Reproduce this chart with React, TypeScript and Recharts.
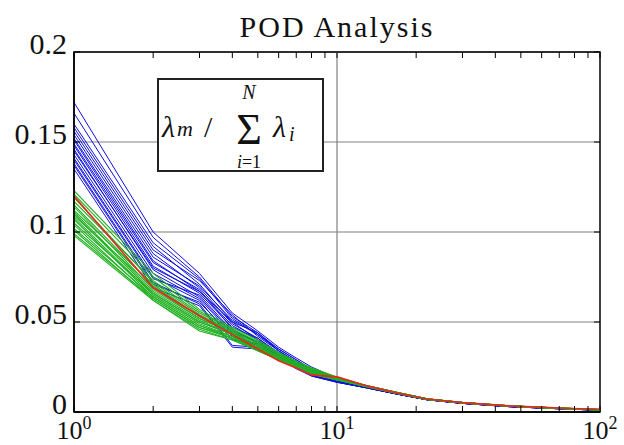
import React from "react";
import { LineChart, Line, XAxis, YAxis, CartesianGrid, ReferenceLine, ReferenceArea } from "recharts";

// mode index (x) sampled along the curves
const XS = [1, 2, 3, 4, 5, 6, 7, 8, 10, 13, 17, 22, 30, 45, 70, 100];

const X_TICKS = [1, 2, 3, 4, 5, 6, 7, 8, 9, 10, 20, 30, 40, 50, 60, 70, 80, 90, 100];
const Y_TICKS = [0, 0.05, 0.1, 0.15, 0.2];
const Y_LABELS = ["0", "0.05", "0.1", "0.15", "0.2"];

const TITLE = "POD Analysis";

// blue family
const BLUE = [
  [0.172, 0.100, 0.077, 0.055, 0.045, 0.036, 0.030, 0.025, 0.0188, 0.0138, 0.0102, 0.0070, 0.0050, 0.0032, 0.0020, 0.0012],
  [0.166, 0.097, 0.075, 0.053, 0.044, 0.035, 0.029, 0.024, 0.0185, 0.0138, 0.0102, 0.0070, 0.0050, 0.0032, 0.0020, 0.0012],
  [0.160, 0.094, 0.074, 0.052, 0.043, 0.035, 0.029, 0.0235, 0.0183, 0.0138, 0.0102, 0.0070, 0.0050, 0.0032, 0.0020, 0.0012],
  [0.158, 0.092, 0.071, 0.050, 0.044, 0.034, 0.028, 0.023, 0.0180, 0.0138, 0.0102, 0.0070, 0.0050, 0.0032, 0.0020, 0.0012],
  [0.156, 0.090, 0.073, 0.054, 0.042, 0.034, 0.028, 0.023, 0.0180, 0.0138, 0.0102, 0.0070, 0.0050, 0.0032, 0.0020, 0.0012],
  [0.154, 0.088, 0.069, 0.049, 0.041, 0.033, 0.028, 0.0225, 0.0178, 0.0138, 0.0102, 0.0070, 0.0050, 0.0032, 0.0020, 0.0012],
  [0.152, 0.086, 0.070, 0.051, 0.043, 0.034, 0.027, 0.022, 0.0176, 0.0136, 0.0100, 0.0069, 0.0049, 0.0031, 0.0019, 0.0011],
  [0.151, 0.084, 0.067, 0.048, 0.040, 0.033, 0.027, 0.022, 0.0175, 0.0136, 0.0100, 0.0069, 0.0049, 0.0031, 0.0019, 0.0011],
  [0.149, 0.083, 0.068, 0.046, 0.038, 0.032, 0.027, 0.022, 0.0174, 0.0136, 0.0100, 0.0069, 0.0049, 0.0031, 0.0019, 0.0011],
  [0.148, 0.081, 0.066, 0.047, 0.041, 0.032, 0.026, 0.0215, 0.0172, 0.0136, 0.0100, 0.0069, 0.0049, 0.0031, 0.0019, 0.0011],
  [0.146, 0.079, 0.064, 0.044, 0.039, 0.032, 0.026, 0.0215, 0.0172, 0.0136, 0.0100, 0.0069, 0.0049, 0.0031, 0.0019, 0.0011],
  [0.145, 0.080, 0.067, 0.050, 0.040, 0.031, 0.026, 0.021, 0.0170, 0.0136, 0.0100, 0.0069, 0.0049, 0.0031, 0.0019, 0.0011],
  [0.143, 0.077, 0.063, 0.043, 0.037, 0.031, 0.026, 0.021, 0.0170, 0.0134, 0.0099, 0.0068, 0.0048, 0.0030, 0.0018, 0.0010],
  [0.141, 0.075, 0.062, 0.040, 0.038, 0.031, 0.025, 0.021, 0.0168, 0.0134, 0.0099, 0.0068, 0.0048, 0.0030, 0.0018, 0.0010],
  [0.140, 0.074, 0.065, 0.045, 0.039, 0.031, 0.025, 0.0205, 0.0168, 0.0134, 0.0099, 0.0068, 0.0048, 0.0030, 0.0018, 0.0010],
  [0.138, 0.072, 0.060, 0.037, 0.036, 0.030, 0.025, 0.0205, 0.0166, 0.0134, 0.0099, 0.0068, 0.0048, 0.0030, 0.0018, 0.0010],
  [0.137, 0.071, 0.061, 0.042, 0.037, 0.030, 0.025, 0.020, 0.0165, 0.0134, 0.0099, 0.0068, 0.0048, 0.0030, 0.0018, 0.0010],
  [0.135, 0.069, 0.059, 0.036, 0.035, 0.030, 0.024, 0.020, 0.0165, 0.0134, 0.0099, 0.0068, 0.0048, 0.0030, 0.0018, 0.0010],
];

// green family
const GREEN = [
  [0.123, 0.077, 0.057, 0.047, 0.040, 0.033, 0.028, 0.0245, 0.0195, 0.0146, 0.0108, 0.0074, 0.0053, 0.0035, 0.0022, 0.0014],
  [0.121, 0.075, 0.056, 0.046, 0.039, 0.033, 0.028, 0.024, 0.0192, 0.0146, 0.0108, 0.0074, 0.0053, 0.0035, 0.0022, 0.0014],
  [0.119, 0.072, 0.054, 0.045, 0.038, 0.032, 0.027, 0.0235, 0.0190, 0.0146, 0.0108, 0.0074, 0.0053, 0.0035, 0.0022, 0.0014],
  [0.117, 0.073, 0.055, 0.046, 0.039, 0.032, 0.028, 0.0245, 0.0192, 0.0146, 0.0108, 0.0074, 0.0053, 0.0035, 0.0022, 0.0014],
  [0.115, 0.070, 0.053, 0.044, 0.037, 0.031, 0.027, 0.023, 0.0188, 0.0146, 0.0108, 0.0074, 0.0053, 0.0035, 0.0022, 0.0014],
  [0.114, 0.068, 0.052, 0.044, 0.037, 0.031, 0.027, 0.023, 0.0186, 0.0146, 0.0108, 0.0074, 0.0053, 0.0035, 0.0022, 0.0014],
  [0.112, 0.071, 0.053, 0.045, 0.038, 0.032, 0.027, 0.0235, 0.0190, 0.0143, 0.0106, 0.0072, 0.0052, 0.0034, 0.0021, 0.0013],
  [0.111, 0.067, 0.051, 0.043, 0.036, 0.031, 0.026, 0.0225, 0.0185, 0.0143, 0.0106, 0.0072, 0.0052, 0.0034, 0.0021, 0.0013],
  [0.110, 0.066, 0.050, 0.043, 0.036, 0.030, 0.026, 0.0225, 0.0184, 0.0143, 0.0106, 0.0072, 0.0052, 0.0034, 0.0021, 0.0013],
  [0.109, 0.069, 0.052, 0.044, 0.037, 0.031, 0.027, 0.023, 0.0187, 0.0143, 0.0106, 0.0072, 0.0052, 0.0034, 0.0021, 0.0013],
  [0.108, 0.065, 0.049, 0.042, 0.035, 0.030, 0.026, 0.022, 0.0182, 0.0143, 0.0106, 0.0072, 0.0052, 0.0034, 0.0021, 0.0013],
  [0.107, 0.064, 0.048, 0.042, 0.035, 0.030, 0.026, 0.022, 0.0182, 0.0143, 0.0106, 0.0072, 0.0052, 0.0034, 0.0021, 0.0013],
  [0.105, 0.066, 0.050, 0.043, 0.036, 0.030, 0.026, 0.0225, 0.0184, 0.0140, 0.0103, 0.0070, 0.0050, 0.0032, 0.0020, 0.0012],
  [0.104, 0.063, 0.047, 0.041, 0.035, 0.029, 0.025, 0.0215, 0.0180, 0.0140, 0.0103, 0.0070, 0.0050, 0.0032, 0.0020, 0.0012],
  [0.102, 0.064, 0.048, 0.041, 0.034, 0.029, 0.025, 0.0215, 0.0180, 0.0140, 0.0103, 0.0070, 0.0050, 0.0032, 0.0020, 0.0012],
  [0.101, 0.062, 0.046, 0.040, 0.034, 0.029, 0.025, 0.021, 0.0178, 0.0140, 0.0103, 0.0070, 0.0050, 0.0032, 0.0020, 0.0012],
  [0.099, 0.063, 0.047, 0.041, 0.035, 0.030, 0.025, 0.022, 0.0180, 0.0140, 0.0103, 0.0070, 0.0050, 0.0032, 0.0020, 0.0012],
  [0.098, 0.062, 0.045, 0.040, 0.034, 0.029, 0.025, 0.021, 0.0178, 0.0140, 0.0103, 0.0070, 0.0050, 0.0032, 0.0020, 0.0012],
];

// mean curve
const RED = [0.120, 0.069, 0.0535, 0.043, 0.035, 0.0285, 0.0245, 0.0206, 0.0195, 0.0145, 0.0105, 0.0072, 0.0052, 0.0034, 0.0022, 0.0014];

const toPts = (ys: number[]) => XS.map((x, i) => ({ x, y: ys[i] }));

const W = 624, H = 445;
const M = { top: 52, right: 24, left: 0, bottom: 0 };
const Y_W = 74, X_H = 33;
const PLOT_W = W - M.right - Y_W;
const PLOT_H = H - M.top - X_H;
const FONT = "'Liberation Serif', 'Times New Roman', Times, serif";

const XTick = (p: any) => {
  const { x, y, payload } = p;
  const v = payload.value;
  const e = Math.round(Math.log10(v));
  const major = Math.abs(Math.pow(10, e) - v) < 1e-9;
  return (
    <g>
      <line x1={x} x2={x} y1={y} y2={y - 6} stroke="#000" />
      <line x1={x} x2={x} y1={y - PLOT_H} y2={y - PLOT_H + 6} stroke="#000" />
      {major && (
        <text x={x} y={y + 27} textAnchor="middle" fontFamily={FONT} fontSize={26} fill="#111">
          10<tspan fontSize={18} dy={-10}>{e}</tspan>
        </text>
      )}
    </g>
  );
};

const YTick = (p: any) => {
  const { x, y, payload } = p;
  const i = Y_TICKS.indexOf(payload.value);
  return (
    <g>
      <line x1={x} x2={x + 6} y1={y} y2={y} stroke="#000" />
      <line x1={x + PLOT_W} x2={x + PLOT_W - 6} y1={y} y2={y} stroke="#000" />
      <text x={x - 7} y={y + 2} textAnchor="end" fontFamily={FONT} fontSize={30} fill="#111">
        {Y_LABELS[i]}
      </text>
    </g>
  );
};

const abs = (o: React.CSSProperties): React.CSSProperties => ({ position: "absolute", lineHeight: 1, whiteSpace: "nowrap", ...o });

export default function App() {
  return (
    <div style={{ position: "absolute", left: 0, top: 0, width: W, height: H, background: "#fff", fontFamily: FONT, color: "#111" }}>
      <LineChart width={W} height={H} margin={M}>
        <CartesianGrid vertical={false} stroke="#808080" strokeWidth={1.2} />
        <ReferenceLine x={10} stroke="#808080" strokeWidth={1.2} />
        <XAxis
          dataKey="x"
          type="number"
          scale="log"
          domain={[1, 100]}
          allowDataOverflow
          ticks={X_TICKS}
          interval={0}
          height={X_H}
          tickSize={0}
          tickMargin={0}
          tickLine={false}
          axisLine={{ stroke: "#000", strokeWidth: 1.5 }}
          tick={XTick}
        />
        <YAxis
          type="number"
          domain={[0, 0.2]}
          ticks={Y_TICKS}
          interval={0}
          width={Y_W}
          tickSize={0}
          tickMargin={0}
          tickLine={false}
          axisLine={{ stroke: "#000", strokeWidth: 1.5 }}
          tick={YTick}
        />
        <ReferenceArea x1={1} x2={100} y1={0} y2={0.2} fill="none" stroke="#000" strokeWidth={1.5} />
        {BLUE.map((s, i) => (
          <Line key={"b" + i} data={toPts(s)} dataKey="y" stroke="#1010e0" strokeWidth={1} dot={false} isAnimationActive={false} />
        ))}
        {GREEN.map((s, i) => (
          <Line key={"g" + i} data={toPts(s)} dataKey="y" stroke="#22b022" strokeWidth={1.1} dot={false} isAnimationActive={false} />
        ))}
        <Line data={toPts(RED)} dataKey="y" stroke="#e8281e" strokeWidth={1.6} dot={false} isAnimationActive={false} />
      </LineChart>

      <div style={abs({ left: 137, top: 12, width: 400, textAlign: "center", fontSize: 30, letterSpacing: 2 })}>{TITLE}</div>

      <div style={{ position: "absolute", left: 157, top: 78, width: 167, height: 94, boxSizing: "border-box", border: "2px solid #222", background: "#fff" }}>
        <span style={abs({ left: 3, top: 32, fontSize: 30, fontStyle: "italic" })}>λ</span>
        <span style={abs({ left: 18, top: 38, fontSize: 22, fontStyle: "italic" })}>m</span>
        <span style={abs({ left: 45, top: 32, fontSize: 30 })}>/</span>
        <span style={abs({ left: 65, top: 3, width: 50, textAlign: "center", fontSize: 20, fontStyle: "italic", lineHeight: 0.9 })}>N</span>
        <span style={abs({ left: 65, top: 35, width: 50, textAlign: "center", fontSize: 44, lineHeight: 0.68 })}>Σ</span>
        <span style={abs({ left: 60, top: 74, width: 60, textAlign: "center", fontSize: 18, lineHeight: 0.9 })}>
          <i>i</i>=1
        </span>
        <span style={abs({ left: 114, top: 32, fontSize: 30, fontStyle: "italic" })}>λ</span>
        <span style={abs({ left: 130, top: 44, fontSize: 20, fontStyle: "italic" })}>i</span>
      </div>
    </div>
  );
}
